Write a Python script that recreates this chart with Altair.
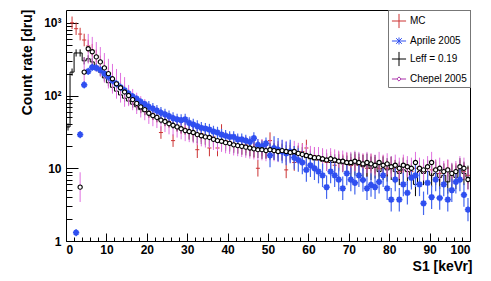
import altair as alt
import numpy as np
import pandas as pd

F = "Liberation Sans"

# ---- data (bin i has centre i + 0.5 keVr) ----
mc_start = 1
mc_vals = [1000, 830, 700, 580, 480, 420, 350, 290, 240,
           200, 170, 150, 128, 112, 100, 88, 80, 72, 66,
           60, 56, 52, 31, 46, 44, 24, 39, 36, 35,
           33, 31, 18, 30, 28, 19, 27, 19, 31, 24,
           23, 22, 21, 20, 21, 19, 18, 10, 19, 18,
           24, 17, 18, 17, 9.5, 17, 12, 16, 17, 19,
           14, 15, 13, 14, 12, 13, 11, 13, 12, 12.5,
           11, 12, 11, 12, 10, 12, 11, 10, 11.5, 10,
           11, 10, 9, 11, 10, 9, 10, 10.5, 9, 10,
           9.5, 10, 8.5, 9, 10, 8.5, 9, 10, 9, 8]

leff_start = 0
leff_vals = [37, 210, 385, 385, 300, 320, 290, 250, 210, 175,
             150, 130, 115, 102, 92, 84, 76, 70, 64, 60,
             56, 52, 49, 46, 43, 41, 39, 36, 34, 33,
             32, 30, 29, 28, 27, 26, 25, 24, 23, 22.5,
             22, 21, 20.5, 20, 19.5, 19, 18.5, 18, 17.5, 17.5,
             17, 17, 16.5, 16.5, 16, 16, 15.5, 15.5, 15, 14,
             13.5, 13, 13, 12.5, 12.5, 12, 12, 12, 11.5, 11.5,
             11, 11.5, 11, 10.5, 11, 10, 10.5, 9, 10, 9.5,
             10, 9, 8.5, 9.5, 9, 8, 6, 9, 8.5, 9,
             8, 8.5, 7.5, 8, 6.5, 8, 7.5, 9.5, 8.5, 7.5]

chepel_start = 3
chepel_vals = [5.5, 210, 440, 400, 340, 290, 240,
               200, 170, 145, 128, 112, 100, 88, 78, 70, 64,
               57, 53, 50, 46, 44, 41, 39, 37, 35, 33,
               32, 31, 29, 28, 27, 26.5, 25, 24, 23.5, 22.5,
               22, 21, 20.5, 20, 19.5, 19, 18.5, 18, 18, 17.5,
               18, 17.5, 17, 17.5, 17, 16.5, 17, 16, 15.5, 15,
               14.5, 14, 14, 13.5, 13, 13.5, 13, 12.5, 12.5, 12,
               12, 12.5, 12, 11.5, 12, 11.5, 11, 12, 11, 11.5,
               10.5, 11, 10, 11, 10.5, 10, 12, 10, 9.5, 10.5,
               12, 9.5, 10, 9, 9.5, 8.5, 9, 10.5, 10, 7]

aprile_start = 2
aprile_vals = [1.3, 29, 140, 215, 245, 240, 225, 200,
               180, 160, 145, 130, 118, 106, 97, 90, 82, 76,
               70, 66, 62, 58, 55, 52, 49, 47, 46, 47,
               42, 40, 38, 36, 35, 34, 32, 31, 29, 28,
               27, 27, 25, 25, 24, 23, 26, 21, 20, 22,
               15, 19, 18, 17, 16, 17, 14, 13, 12, 9.5,
               11, 10, 9, 8, 5.5, 9, 8, 7, 5.3, 8.5,
               7, 6.3, 8, 6.9, 5.3, 5.9, 5.5, 6.5, 8, 5.3,
               3.7, 7, 3.7, 6, 4.6, 7.4, 8, 6, 3.3, 6.3,
               4, 7, 3.9, 6, 3.7, 5, 6.5, 7, 4.3, 2.7]

# error factors (multiplicative), by x range: (upper x limit, factor)
mc_err = [(30, 1.22), (101, 1.3)]
leff_err = [(30, 1.12), (70, 1.3), (101, 1.45)]
chepel_err = [(15, 1.6), (101, 1.4)]
aprile_err = [(20, 1.12), (50, 1.2), (101, 1.45)]

series = ["MC", "Aprile 2005", "Leff = 0.19", "Chepel 2005"]
colors = ["#cc3333", "#2f4ff0", "#000000", "#aa33aa"]
paths = ["M-1,0L1,0M0,-1L0,1",
         "M-1,0L1,0M0,-0.5L0,0.5M-0.4,-0.4L0.4,0.4M-0.4,0.4L0.4,-0.4",
         "M-1,0L1,0M0,-1L0,1",
         "M-1,0L-0.3,0M0.3,0L1,0M0,-0.3L0.3,0L0,0.3L-0.3,0Z"]


def frame(start, vals, err):
    x = np.arange(start, start + len(vals)) + 0.5
    v = np.array(vals, dtype=float)
    f = np.array([next(fa for lim, fa in err if xx < lim) for xx in x])
    return pd.DataFrame({"x": x, "x0": x - 0.5, "x1": x + 0.5,
                         "y": v, "lo": v / f, "hi": v * f})


mc = frame(mc_start, mc_vals, mc_err)
leff = frame(leff_start, leff_vals, leff_err)
chepel = frame(chepel_start, chepel_vals, chepel_err)
aprile = frame(aprile_start, aprile_vals, aprile_err)

leff_line = pd.DataFrame({"e": list(leff["x0"]) + [leff["x1"].iloc[-1]],
                          "y": list(leff["y"]) + [leff["y"].iloc[-1]]})

W, H = 404, 231
xs = alt.Scale(domain=[0, 100], nice=False, zero=False)
ys = alt.Scale(type="log", domain=[1, 1500], nice=False)

ax_x_lab = alt.Axis(values=list(range(0, 101, 10)), ticks=False, domain=False, grid=False,
                    labelFont=F, labelFontSize=12, labelFontWeight="bold", labelColor="black",
                    labelPadding=3, title="S1 [keVr]", titleFont=F, titleFontSize=14,
                    titleFontWeight="bold", titleColor="black", titleX=W + 2, titleY=29,
                    titleAlign="right", titleBaseline="alphabetic")
ax_y_lab = alt.Axis(values=[1, 10, 100, 1000],
                    labelExpr="datum.value == 1000 ? '10³' : datum.value == 100 ? '10²' : datum.value == 10 ? '10' : '1'",
                    ticks=False, domain=False, grid=False,
                    labelFont=F, labelFontSize=12, labelFontWeight="bold", labelColor="black",
                    labelPadding=5, title="Count rate [dru]", titleFont=F, titleFontSize=14,
                    titleFontWeight="bold", titleColor="black", titleAngle=270,
                    titleX=-39, titleY=-1, titleAlign="right", titleBaseline="middle")

ax_x_tick = alt.Axis(orient="top", offset=-H, values=list(range(0, 101, 2)), labels=False,
                     domain=False, grid=False, title="", tickColor="black", tickWidth=1,
                     tickSize={"condition": {"test": "datum.value % 10 == 0", "value": 8}, "value": 4})
yt_vals = [m * 10 ** d for d in range(0, 3) for m in range(1, 10)] + [1000]
ax_y_tick = alt.Axis(orient="right", offset=-W, values=yt_vals, labels=False,
                     domain=False, grid=False, title="", tickColor="black", tickWidth=1,
                     tickSize={"condition": {"test": "indexof([1,10,100,1000], datum.value) >= 0", "value": 12}, "value": 6})

# Leff histogram (carries the labelled axes)
l_leff = alt.Chart(leff_line).mark_line(interpolate="step-after", color="black",
                                         strokeWidth=1, clip=True).encode(
    x=alt.X("e:Q", scale=xs, axis=ax_x_lab),
    y=alt.Y("y:Q", scale=ys, axis=ax_y_lab))

# MC crosses (carries the inward tick axes)
l_mc_v = alt.Chart(mc).mark_rule(color=colors[0], strokeWidth=1, clip=True).encode(
    x=alt.X("x:Q", scale=xs, axis=ax_x_tick),
    y=alt.Y("lo:Q", scale=ys, axis=ax_y_tick), y2="hi:Q")
l_mc_h = alt.Chart(mc).mark_rule(color=colors[0], strokeWidth=1, clip=True).encode(
    x=alt.X("x0:Q", scale=xs, axis=None), x2="x1:Q",
    y=alt.Y("y:Q", scale=ys, axis=None))

l_leff_e = alt.Chart(leff).mark_rule(color="black", strokeWidth=1, clip=True).encode(
    x=alt.X("x:Q", scale=xs, axis=None),
    y=alt.Y("lo:Q", scale=ys, axis=None), y2="hi:Q")

l_ch_e = alt.Chart(chepel).mark_rule(color="#e070e0", strokeWidth=1, clip=True).encode(
    x=alt.X("x:Q", scale=xs, axis=None),
    y=alt.Y("lo:Q", scale=ys, axis=None), y2="hi:Q")

l_ap_e = alt.Chart(aprile).mark_rule(color="#4466ee", strokeWidth=1.2, clip=True).encode(
    x=alt.X("x:Q", scale=xs, axis=None),
    y=alt.Y("lo:Q", scale=ys, axis=None), y2="hi:Q")
l_ap_p = alt.Chart(aprile).mark_point(
    shape="M-1,0L1,0M0,-1L0,1M-0.7,-0.7L0.7,0.7M-0.7,0.7L0.7,-0.7",
    filled=False, color=colors[1], strokeWidth=1.8, size=40, opacity=1, clip=True).encode(
    x=alt.X("x:Q", scale=xs, axis=None),
    y=alt.Y("y:Q", scale=ys, axis=None))

l_ch_p = alt.Chart(chepel).mark_point(shape="circle", filled=True, fill="white", stroke="black",
                                      strokeWidth=1.1, size=18, opacity=1, clip=True).encode(
    x=alt.X("x:Q", scale=xs, axis=None),
    y=alt.Y("y:Q", scale=ys, axis=None))

leg_df = pd.DataFrame({"series": series})
legend = alt.Legend(title=None, orient="top-right", offset=0, padding=3, fillColor="white",
                    strokeColor="#777777", labelFont=F, labelFontSize=10, labelColor="black",
                    symbolSize=200, symbolStrokeWidth=1, rowPadding=2, labelOffset=3,
                    symbolOpacity=1)
l_leg = alt.Chart(leg_df).mark_point(filled=False, opacity=0).encode(
    shape=alt.Shape("series:N", scale=alt.Scale(domain=series, range=paths), legend=legend),
    color=alt.Color("series:N", scale=alt.Scale(domain=series, range=colors), legend=legend))

chart = alt.layer(l_leff, l_mc_v, l_mc_h, l_leff_e, l_ch_e, l_ap_e, l_ap_p, l_ch_p, l_leg).resolve_axis(
    x="independent", y="independent").properties(
    width=W, height=H,
    padding={"left": 58, "top": 2, "right": 12, "bottom": 38},
    autosize=alt.AutoSizeParams(type="none"),
    background="white",
).configure_view(stroke="black", strokeWidth=1)

chart.save("out.html", embed_options={"renderer": "svg", "actions": False})
